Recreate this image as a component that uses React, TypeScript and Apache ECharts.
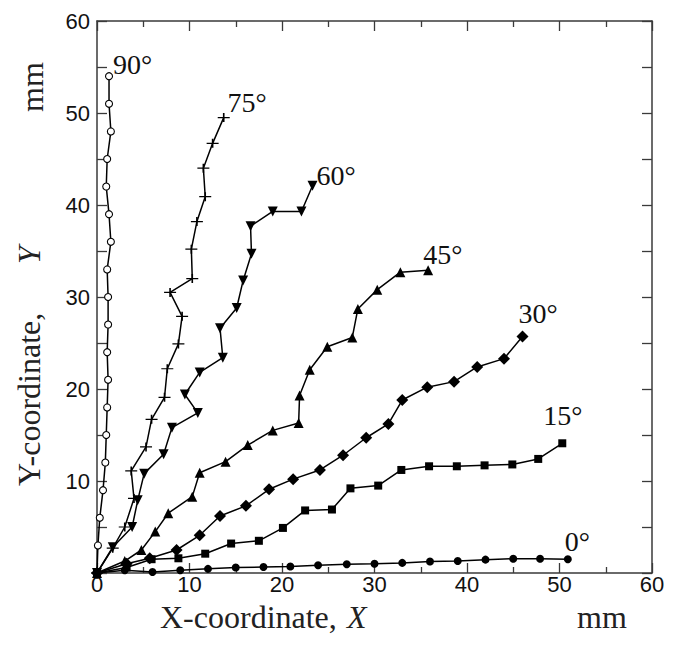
import React, { useEffect, useRef } from "react";
import * as echarts from "echarts";

// Data: [X, Y] in mm
const deg90: [number, number][] = [[0,0],[0.1,3],[0.3,6],[0.65,9],[0.9,12],[1.0,15],[1.1,18],[1.2,21],[1.1,24],[1.2,27],[1.2,30],[1.1,33],[1.5,36],[1.3,39],[1.0,42],[1.1,45],[1.5,48],[1.3,51],[1.3,54]];
const deg75: [number, number][] = [[0,0],[1.7,2.7],[3.0,5.0],[4.0,8.1],[3.7,11.1],[5.3,13.7],[5.9,16.7],[7.3,19.1],[7.6,22.2],[8.8,24.9],[9.2,27.9],[7.9,30.5],[10.3,32.0],[10.2,35.2],[10.8,38.2],[11.7,40.9],[11.5,44.0],[12.5,46.7],[13.7,49.5]];
const deg60: [number, number][] = [[0,0],[1.7,2.8],[3.8,5.0],[4.4,7.9],[5.1,10.8],[7.2,12.9],[8.1,15.8],[10.9,17.4],[9.5,19.4],[11.1,21.8],[13.6,23.4],[13.3,26.6],[15.1,28.8],[15.8,31.8],[16.7,34.7],[16.6,37.7],[19.0,39.3],[22.1,39.3],[23.3,42.1]];
const deg45: [number, number][] = [[0,0],[3.0,1.3],[4.8,2.5],[6.3,4.5],[7.7,6.5],[10.3,8.3],[11.1,10.9],[13.9,12.1],[16.3,13.9],[19.0,15.5],[21.8,16.3],[21.9,19.3],[23.0,22.1],[24.9,24.6],[27.6,25.6],[28.2,28.7],[30.3,30.8],[32.8,32.7],[35.8,32.9]];
const deg30: [number, number][] = [[0,0],[3.2,1.0],[5.7,1.6],[8.6,2.5],[11.1,4.1],[13.3,6.2],[16.1,7.3],[18.6,9.1],[21.2,10.2],[24.1,11.2],[26.6,12.8],[29.1,14.7],[31.5,16.2],[33.0,18.8],[35.7,20.2],[38.6,20.8],[41.1,22.4],[44.0,23.3],[46.0,25.7]];
const deg15: [number, number][] = [[0,0],[3.2,0.6],[5.9,1.5],[8.8,1.6],[11.7,2.1],[14.5,3.2],[17.5,3.5],[20.1,4.9],[22.5,6.8],[25.4,6.9],[27.4,9.2],[30.4,9.5],[32.9,11.2],[35.9,11.6],[38.9,11.6],[41.9,11.7],[44.9,11.8],[47.7,12.4],[50.3,14.1]];
const deg0: [number, number][] = [[0,0],[3.0,0.3],[6.0,0.1],[9.0,0.3],[12.0,0.45],[15.0,0.6],[18.0,0.65],[20.9,0.7],[23.9,0.85],[27.0,0.95],[30.0,1.0],[33.0,1.1],[36.0,1.25],[39.0,1.3],[42.0,1.45],[45.0,1.55],[47.9,1.55],[50.9,1.5]];

const seriesNames = ["90°", "75°", "60°", "45°", "30°", "15°", "0°"];
const seriesData = [deg90, deg75, deg60, deg45, deg30, deg15, deg0];

const PLUS = "path://M6,0 L6,9 M0,4.5 L12,4.5";
const DOWN_TRI = "path://M0,0 L10,0 L5,9 Z";

const styles: any[] = [
  { symbol: "circle", size: 7, fill: "#fff", border: 1.1, offset: [0, -12] },
  { symbol: PLUS, size: [12, 9], fill: "none", border: 1.4, offset: [-5, -15] },
  { symbol: DOWN_TRI, size: 10, fill: "#000", border: 0, offset: [-1, -10] },
  { symbol: "triangle", size: 10, fill: "#000", border: 0, offset: [-10, -16] },
  { symbol: "diamond", size: 12, fill: "#000", border: 0, offset: [-10, -23] },
  { symbol: "rect", size: 8, fill: "#000", border: 0, offset: [-23, -28] },
  { symbol: "circle", size: 8, fill: "#000", border: 0, offset: [-7, -18] },
];

const SERIF = "Liberation Serif";
const SANS = "Liberation Sans";
const FRAME = "#3a3a3a";
const TITLE_SIZE = 32;
const TICK_SIZE = 22;

export default function App() {
  const ref = useRef<HTMLDivElement>(null);
  useEffect(() => {
    if (!ref.current) return;
    const chart = echarts.init(ref.current, undefined, { renderer: "svg" });
    const axisCommon = {
      type: "value",
      min: 0,
      max: 60,
      interval: 10,
      splitLine: { show: false },
      axisLine: { show: true, onZero: false, lineStyle: { color: FRAME, width: 1.5 } },
    };
    const tick = (len: number) => ({ show: true, inside: true, length: len, lineStyle: { color: FRAME, width: 1.3 } });
    const series = seriesData.map((d, i) => {
      const st = styles[i];
      const data = d.map((p, j) =>
        j === d.length - 1
          ? {
              value: p,
              label: {
                show: true,
                formatter: seriesNames[i],
                position: "right",
                distance: 0,
                offset: st.offset,
                fontFamily: SERIF,
                fontSize: 28,
                color: "#111",
              },
            }
          : p
      );
      return {
        type: "line",
        name: seriesNames[i],
        data,
        symbol: st.symbol,
        symbolSize: st.size,
        showAllSymbol: true,
        lineStyle: { color: "#000", width: 1.5 },
        itemStyle: { color: st.fill, borderColor: "#000", borderWidth: st.border },
        z: 3,
      };
    });
    const titleStyle = (text: string, italic = false) => ({
      text,
      fontFamily: SERIF,
      fontSize: TITLE_SIZE,
      fontStyle: italic ? "italic" : "normal",
      fill: "#222",
    });
    const xTitle = (text: string, x: number, italic = false) => ({
      type: "text",
      x,
      y: 617,
      style: { ...titleStyle(text, italic), align: "left", verticalAlign: "middle" },
    });
    const yTitle = (text: string, y: number, italic = false) => ({
      type: "text",
      x: 45,
      y,
      rotation: Math.PI / 2,
      style: { ...titleStyle(text, italic), align: "left", verticalAlign: "bottom" },
    });
    chart.setOption({
      animation: false,
      backgroundColor: "#fff",
      grid: { left: 97, right: 29, top: 21, bottom: 73 },
      xAxis: [
        {
          ...axisCommon,
          position: "bottom",
          axisTick: tick(10),
          minorTick: { ...tick(6), splitNumber: 2 },
          axisLabel: { fontSize: TICK_SIZE, lineHeight: 20, fontFamily: SANS, color: "#111", margin: 1 },
        },
        {
          ...axisCommon,
          position: "top",
          axisTick: tick(10),
          minorTick: { ...tick(6), splitNumber: 2 },
          axisLabel: { show: false },
        },
      ],
      yAxis: [
        {
          ...axisCommon,
          position: "left",
          axisTick: tick(10),
          minorTick: { ...tick(10), splitNumber: 2 },
          axisLabel: { fontSize: TICK_SIZE, fontFamily: SANS, color: "#111", margin: 7, showMinLabel: false },
        },
        {
          ...axisCommon,
          position: "right",
          axisTick: tick(10),
          minorTick: { ...tick(10), splitNumber: 2 },
          axisLabel: { show: false },
        },
      ],
      series,
      graphic: [
        xTitle("X-coordinate,", 160),
        xTitle("X", 347, true),
        xTitle("mm", 577),
        yTitle("Y-coordinate,", 486),
        yTitle("Y", 264, true),
        { ...yTitle("mm", 112), x: 48 },
      ],
    });
    return () => chart.dispose();
  }, []);
  return (
    <div
      ref={ref}
      style={{ position: "fixed", left: 0, top: 0, width: 681, height: 646, background: "#fff" }}
    />
  );
}
